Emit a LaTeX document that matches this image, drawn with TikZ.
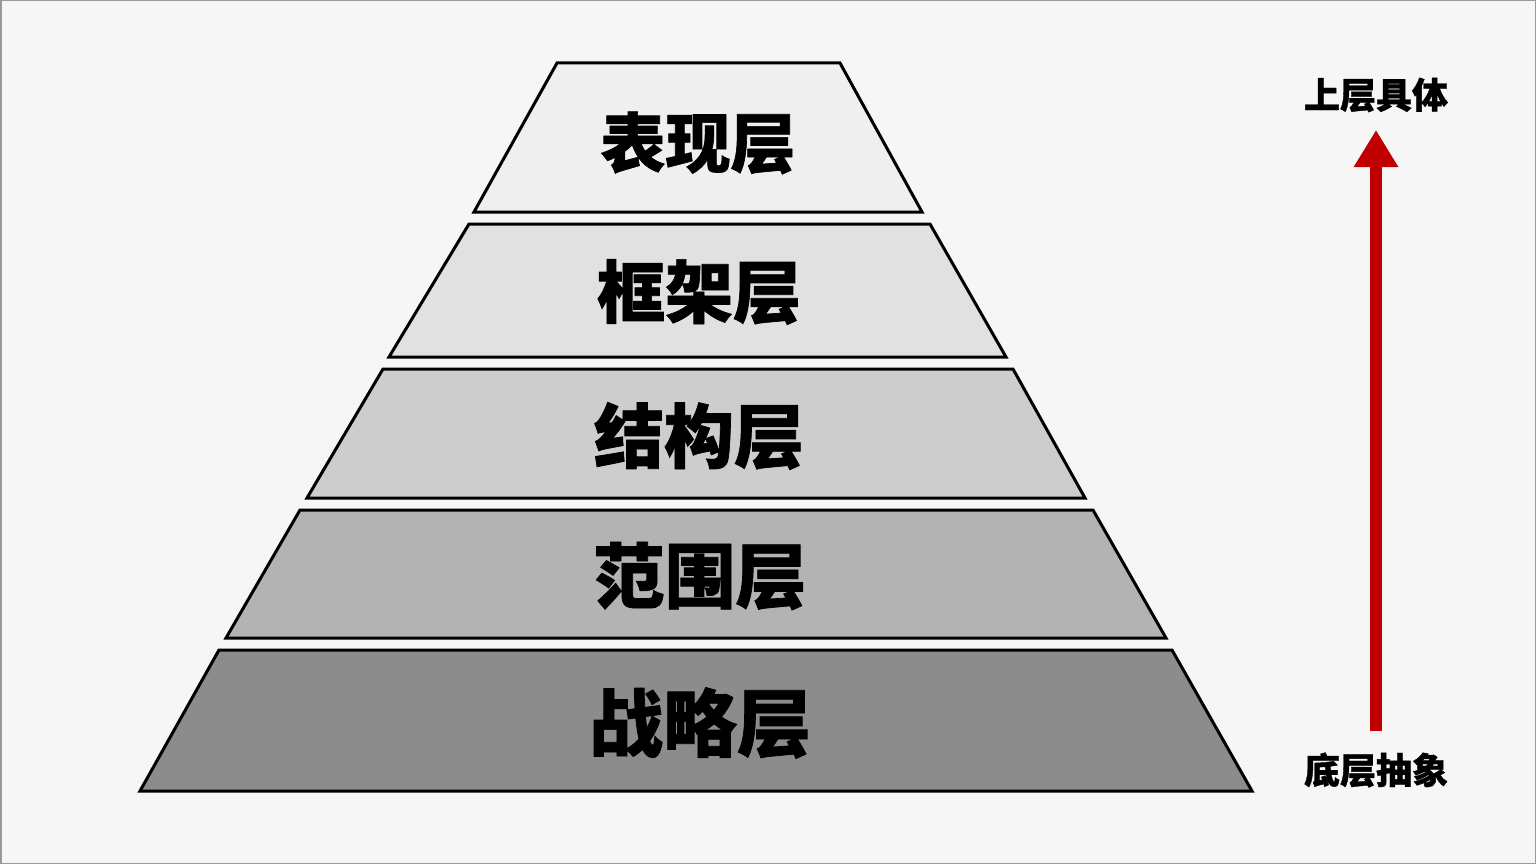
\documentclass[tikz,border=0pt]{standalone}
\usepackage{fontspec}
\newfontfamily\cjk{Noto Sans CJK SC}[BoldFeatures={FakeBold=1}]
\usetikzlibrary{arrows.meta}
\definecolor{bgc}{HTML}{F6F6F6}
\definecolor{edgec}{HTML}{9A9A9A}
\definecolor{fillA}{HTML}{EFEFEF}
\definecolor{fillB}{HTML}{E1E1E1}
\definecolor{fillC}{HTML}{CDCDCD}
\definecolor{fillD}{HTML}{B3B3B3}
\definecolor{fillE}{HTML}{8C8C8C}
\definecolor{arrowred}{HTML}{C00000}
\tikzset{
  layer/.style={draw=black, line width=3pt, line join=miter},
  layertext/.style={font=\cjk\bfseries, text=black, inner sep=0pt},
  sidelabel/.style={font=\cjk\bfseries\fontsize{36}{40}\selectfont, text=black, inner sep=0pt},
  uparrow/.style={draw=arrowred, line width=12pt, -{Triangle[length=37pt,width=42pt]}}
}
\begin{document}
\begin{tikzpicture}[x=1pt,y=-1pt]
\useasboundingbox (0,0) rectangle (1536,864);
\fill[bgc] (0,0) rectangle (1536,864);
\draw[edgec, line width=1.5pt] (0.75,0.75) rectangle (1535.25,863.25);

% layers
\draw[layer, fill=fillA] (557,63) -- (840,63) -- (922,212) -- (474,212) -- cycle;
\draw[layer, fill=fillB] (469,224) -- (930,224) -- (1006,357) -- (389,357) -- cycle;
\draw[layer, fill=fillC] (383,369) -- (1013,369) -- (1085,498) -- (307,498) -- cycle;
\draw[layer, fill=fillD] (300,510) -- (1093,510) -- (1166,638) -- (226,638) -- cycle;
\draw[layer, fill=fillE] (219,650) -- (1172,650) -- (1252,791) -- (140,791) -- cycle;

\node[layertext, font=\cjk\bfseries\fontsize{65}{70}\selectfont] (t1) at (698,143) {表现层};
\node[layertext, font=\cjk\bfseries\fontsize{68}{72}\selectfont] (t2) at (699,292) {框架层};
\node[layertext, font=\cjk\bfseries\fontsize{70}{74}\selectfont] (t3) at (699,436) {结构层};
\node[layertext, font=\cjk\bfseries\fontsize{71}{76}\selectfont] (t4) at (700,576) {范围层};
\node[layertext, font=\cjk\bfseries\fontsize{74}{78}\selectfont] (t5) at (700,723) {战略层};

% side labels and arrow
\node[sidelabel] (top) at (1376,95) {上层具体};
\node[sidelabel] (bottom) at (1376,770) {底层抽象};
\coordinate (arrowstart) at (1376,731);
\coordinate (arrowend) at (1376,130);
\draw[uparrow] (arrowstart) -- (arrowend);
\end{tikzpicture}
\end{document}
